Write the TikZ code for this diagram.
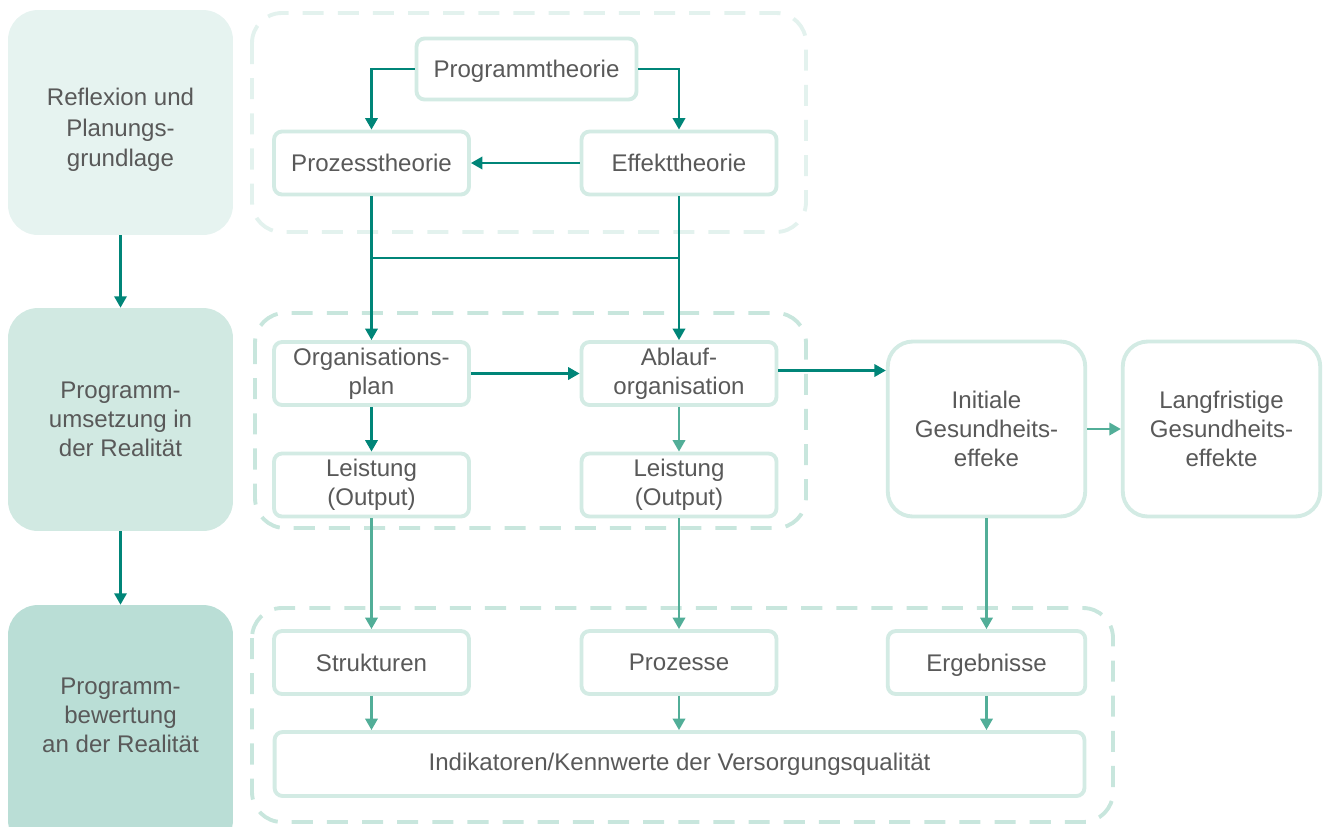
\documentclass[tikz,border=0pt]{standalone}
\usepackage{fontspec}
\setmainfont{Liberation Sans}
\usepackage{xcolor}
\usepackage{tikz}
\usetikzlibrary{arrows.meta, positioning}

\definecolor{darkteal}{HTML}{008578}
\definecolor{lightteal}{HTML}{52AE98}
\definecolor{boxline}{HTML}{D3EBE4}
\definecolor{grpline}{HTML}{C8E6DD}
\definecolor{grplight}{HTML}{E3F2EE}
\definecolor{fillA}{HTML}{E6F3F0}
\definecolor{fillB}{HTML}{D1E9E2}
\definecolor{fillC}{HTML}{BADED6}
\definecolor{txtgray}{HTML}{595959}

\begin{document}
\begin{tikzpicture}[x=0.02cm, y=-0.02cm, >={Triangle[length=6.5pt, width=7pt]},
        font=\fontsize{13.7}{16.5}\selectfont, text=txtgray]

        % Styles
        \tikzstyle{stage} = [rounded corners=0.6cm, minimum width=4.5cm, align=center, inner sep=0pt]
        \tikzstyle{box} = [draw=boxline, line width=2.2pt, rounded corners=0.16cm, fill=white,
            minimum width=3.9cm, minimum height=1.26cm, align=center, inner sep=0pt]
        \tikzstyle{bigbox} = [box, rounded corners=0.5cm, minimum width=3.95cm, minimum height=3.5cm]
        \tikzstyle{grp} = [line width=2.2pt, dash pattern=on 12pt off 8pt, rounded corners=0.6cm]
        \tikzstyle{darrow} = [->, darkteal, line width=1.4pt]
        \tikzstyle{larrow} = [->, lightteal, line width=1.4pt]

        \useasboundingbox (0,0) rectangle (1325,826);

        % Stages on the left
        \node[stage, fill=fillA, minimum height=4.5cm] (refl) at (120.5,122.5) {};
        \node (refltext) at (120.5,130) [align=center, font=\fontsize{13.7}{17.5}\selectfont] {Reflexion und\\Planungs-\\grundlage};
        \node[stage, fill=fillB, minimum height=4.46cm] (ums) at (120.5,419.5) {Programm-\\umsetzung in\\der Realität};
        \node[stage, fill=fillC, minimum height=4.9cm] (bew) at (120.5,727.5) {};
        \node (bewtext) at (120.5,715) [align=center] {Programm-\\bewertung\\an der Realität};

        \draw[darrow] (refl) -- (ums);
        \draw[darrow] (ums) -- (bew);

        % Groups
        \draw[grp, grplight] (252,13) rectangle (806,232);
        \draw[grp, grpline] (255,313) rectangle (806,528);
        \draw[grp, grpline] (252,608) rectangle (1113,822);

        % Theory
        \node[box, minimum width=4.4cm, minimum height=1.22cm, text depth=0pt] (prog) at (526.5,69) {Programmtheorie};
        \node[box] (proz) at (371.5,163) {Prozesstheorie};
        \node[box] (eff) at (679,163) {Effekttheorie};

        \draw[darrow] (prog.west) -| (proz.north);
        \draw[darrow] (prog.east) -| (eff.north);
        \draw[darrow] (eff.west) -- (proz.east);

        % Implementation
        \node[box] (org) at (371.5,373.5) {Organisations-\\plan};
        \node[box] (abl) at (679,373.5) {Ablauf-\\organisation};
        \node[box] (leist1) at (371.5,485) {Leistung\\(Output)};
        \node[box] (leist2) at (679,485) {Leistung\\(Output)};
        \node[bigbox] (init) at (986.5,429) {Initiale\\Gesundheits-\\effeke};
        \node[bigbox] (lang) at (1221.5,429) {Langfristige\\Gesundheits-\\effekte};

        \coordinate (j1) at (proz.south |- 0,258);
        \coordinate (j2) at (eff.south |- 0,258);
        \draw[darrow] (proz.south) -- (org.north);
        \draw[darrow] (eff.south) -- (abl.north);
        \draw[darkteal, line width=1.4pt] (j1) -- (j2);
        \draw[darrow] (org.east) -- (abl.west);
        \draw[darrow] ([yshift=0.06cm]abl.east) -- ([yshift=0.06cm]abl.east -| init.west);
        \draw[darrow] (org) -- (leist1);
        \draw[larrow] (abl) -- (leist2);
        \draw[larrow] (init) -- (lang);

        % Evaluation
        \node[box] (strk) at (371.5,662.5) {Strukturen};
        \node[box] (proc) at (679,662.5) {Prozesse};
        \node[box, minimum width=3.95cm, text depth=0pt] (erg) at (986.5,662.5) {Ergebnisse};
        \node[box, minimum width=16.2cm, minimum height=1.28cm] (ind) at (679.5,764) {Indikatoren/Kennwerte der Versorgungsqualität};

        \draw[larrow] (leist1) -- (strk);
        \draw[larrow] (leist2) -- (proc);
        \draw[larrow] (init) -- (erg);
        \draw[larrow] (strk) -- (strk |- ind.north);
        \draw[larrow] (proc) -- (proc |- ind.north);
        \draw[larrow] (erg) -- (erg |- ind.north);

    \end{tikzpicture}
\end{document}
